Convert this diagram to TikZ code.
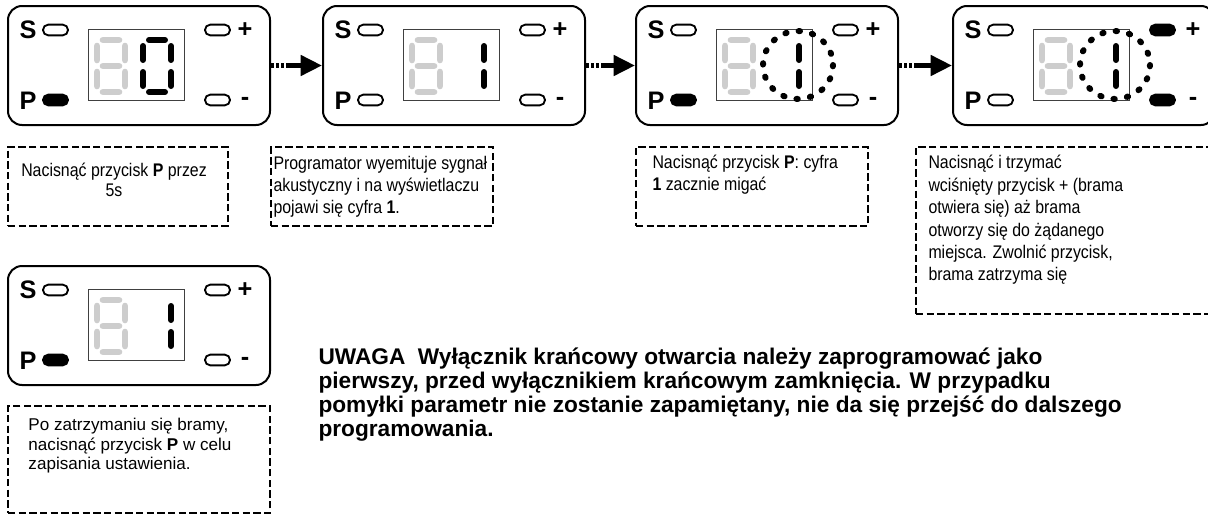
\documentclass[tikz,border=0pt]{standalone}
\usepackage{fontspec}
\setmainfont{Liberation Sans}
\newfontfamily\narrowsans[FakeStretch=0.87]{Liberation Sans}
\usetikzlibrary{arrows.meta}

\tikzset{every picture/.style={line width=0.75pt}}
\tikzset{
  panel/.style={draw, line width=1.5pt, rounded corners=10.5pt, minimum width=196.5pt, minimum height=89.25pt, anchor=north west, inner sep=0pt},
  lcd/.style={draw=black!75, line width=0.75pt, minimum width=72pt, minimum height=53.25pt, inner sep=0pt},
  led/.style={draw, line width=1.4pt, rounded corners=3.9pt, minimum width=18.75pt, minimum height=8pt, inner sep=0pt},
  ledon/.style={led, fill=black},
  key/.style={font=\fontsize{19}{19}\selectfont\bfseries, inner sep=0pt},
  ghost/.style={draw={rgb,255:red,205;green,205;blue,205}, line width=5pt, line cap=round},
  seg/.style={draw=black, line width=4.5pt, line cap=round},
  blink/.style={draw, line width=4.5pt, line cap=round, dash pattern=on 1pt off 9.2pt},
  flow/.style={line width=3.5pt, dash pattern=on 2.25pt off 1.5pt on 2.25pt off 1.5pt on 2.25pt off 1.5pt on 20pt off 0pt, -{Triangle[length=16pt,width=15pt]}},
  note/.style={draw, line width=1.5pt, dash pattern=on 5.5pt off 2.5pt, anchor=north west, inner sep=0pt},
  notetext/.style={font=\narrowsans\fontsize{13.7}{16.5}\selectfont, inner sep=0pt, anchor=north west, align=left},
}

\begin{document}
\begin{tikzpicture}[x=0.75pt,y=0.75pt,yscale=-1,xscale=1]
\useasboundingbox (0,0) rectangle (1208,525);
\clip (0,0) rectangle (1208,525);

%Panel 1: P held
\begin{scope}[shift={(7,5)}]
\node[panel] (p1) at (0,0) {};
\node[key] (p1S) at (21,25) {S};
\node[key] (p1P) at (21,96) {P};
\node[led] (p1ls) at (48.5,25) {};
\node[ledon] (p1lp) at (48.5,95) {};
\node[led] (p1lplus) at (210.5,25) {};
\node[led] (p1lminus) at (210.5,95) {};
\node[key] (p1plus) at (238,25) {+};
\node[key] (p1minus) at (238,96) {-};
\node[lcd] (p1lcd) at (129,59.5) {};
\draw[ghost] (96,35) -- (112,35) (96,61) -- (112,61) (96,87) -- (112,87) (90,41) -- (90,55) (90,67) -- (90,81) (118,41) -- (118,55) (118,67) -- (118,81);
\draw[seg] (142,35) -- (158,35) (142,87) -- (158,87) (136,41) -- (136,55) (136,67) -- (136,81) (164,41) -- (164,55) (164,67) -- (164,81);
\end{scope}

%Panel 2: digit 1
\begin{scope}[shift={(322,5)}]
\node[panel] (p2) at (0,0) {};
\node[key] (p2S) at (21,25) {S};
\node[key] (p2P) at (21,96) {P};
\node[led] (p2ls) at (48.5,25) {};
\node[led] (p2lp) at (48.5,95) {};
\node[led] (p2lplus) at (210.5,25) {};
\node[led] (p2lminus) at (210.5,95) {};
\node[key] (p2plus) at (238,25) {+};
\node[key] (p2minus) at (238,96) {-};
\node[lcd] (p2lcd) at (129,59.5) {};
\draw[ghost] (96,35) -- (112,35) (96,61) -- (112,61) (96,87) -- (112,87) (90,41) -- (90,55) (90,67) -- (90,81) (118,41) -- (118,55) (118,67) -- (118,81);
\draw[seg] (162,41) -- (162,55) (162,67) -- (162,81);
\end{scope}

%Panel 3: digit 1 blinking
\begin{scope}[shift={(635,5)}]
\node[panel] (p3) at (0,0) {};
\node[key] (p3S) at (21,25) {S};
\node[key] (p3P) at (21,96) {P};
\node[led] (p3ls) at (48.5,25) {};
\node[ledon] (p3lp) at (48.5,95) {};
\node[led] (p3lplus) at (210.5,25) {};
\node[led] (p3lminus) at (210.5,95) {};
\node[key] (p3plus) at (238,25) {+};
\node[key] (p3minus) at (238,96) {-};
\node[lcd] (p3lcd) at (129,59.5) {};
\draw[ghost] (96,35) -- (112,35) (96,61) -- (112,61) (96,87) -- (112,87) (90,41) -- (90,55) (90,67) -- (90,81) (118,41) -- (118,55) (118,67) -- (118,81);
\draw[seg] (164,41) -- (164,55) (164,67) -- (164,81);
\draw[blink] (163,60) ellipse [x radius=35, y radius=34];
\end{scope}

%Panel 4: + and - lit
\begin{scope}[shift={(952,5)}]
\node[panel] (p4) at (0,0) {};
\node[key] (p4S) at (21,25) {S};
\node[key] (p4P) at (21,96) {P};
\node[led] (p4ls) at (48.5,25) {};
\node[led] (p4lp) at (48.5,95) {};
\node[ledon] (p4lplus) at (210.5,25) {};
\node[ledon] (p4lminus) at (210.5,95) {};
\node[key] (p4plus) at (241,25) {+};
\node[key] (p4minus) at (241,96) {-};
\node[lcd] (p4lcd) at (129,59.5) {};
\draw[ghost] (96,35) -- (112,35) (96,61) -- (112,61) (96,87) -- (112,87) (90,41) -- (90,55) (90,67) -- (90,81) (118,41) -- (118,55) (118,67) -- (118,81);
\draw[seg] (164,41) -- (164,55) (164,67) -- (164,81);
\draw[blink] (163,60) ellipse [x radius=35, y radius=34];
\end{scope}

%Panel 5: save
\begin{scope}[shift={(7,265)}]
\node[panel] (p5) at (0,0) {};
\node[key] (p5S) at (21,25) {S};
\node[key] (p5P) at (21,96) {P};
\node[led] (p5ls) at (48.5,25) {};
\node[ledon] (p5lp) at (48.5,95) {};
\node[led] (p5lplus) at (210.5,25) {};
\node[led] (p5lminus) at (210.5,95) {};
\node[key] (p5plus) at (238,25) {+};
\node[key] (p5minus) at (238,96) {-};
\node[lcd] (p5lcd) at (129,59.5) {};
\draw[ghost] (96,35) -- (112,35) (96,61) -- (112,61) (96,87) -- (112,87) (90,41) -- (90,55) (90,67) -- (90,81) (118,41) -- (118,55) (118,67) -- (118,81);
\draw[seg] (164,41) -- (164,55) (164,67) -- (164,81);
\end{scope}

%Arrows
\draw[flow] (p1.east) -- (p2.west);
\draw[flow] (p2.east) -- (p3.west);
\draw[flow] (p3.east) -- (p4.west);

%Notes
\node[note, minimum width=165pt, minimum height=59.25pt] (n1) at (7,146) {};
\node[note, minimum width=166.5pt, minimum height=59.25pt] (n2) at (270,146) {};
\node[note, minimum width=174pt, minimum height=59.25pt] (n3) at (635,146) {};
\node[note, minimum width=225pt, minimum height=125.25pt] (n4) at (915,146) {};
\node[note, minimum width=196.5pt, minimum height=80.25pt] (n5) at (7,405) {};

% Text Node
\node[notetext, anchor=north, align=center, font=\narrowsans\fontsize{13.7}{15}\selectfont] (t1) at (114,163) {Nacisnąć przycisk \textbf{P} przez\\5s};
% Text Node
\node[notetext] (t2) at (273,156) {Programator wyemituje sygnał\\akustyczny i na wyświetlaczu\\pojawi się cyfra \textbf{1}.};
% Text Node
\node[notetext] (t3) at (652,155) {Nacisnąć przycisk \textbf{P}: cyfra\\\textbf{1} zacznie migać};
% Text Node
\node[notetext, font=\narrowsans\fontsize{13.7}{16.8}\selectfont] (t4) at (928,155) {Nacisnąć i trzymać\\wciśnięty przycisk + (brama\\otwiera się) aż brama\\otworzy się do żądanego\\miejsca. Zwolnić przycisk,\\brama zatrzyma się};
% Text Node
\node[notetext, font=\fontsize{12.8}{14.6}\selectfont] (t5) at (28,418) {Po zatrzymaniu się bramy,\\nacisnąć przycisk \textbf{P} w celu\\zapisania ustawienia.};
% Text Node
\node[notetext, font=\fontsize{17}{18}\selectfont\bfseries] (uwaga) at (318,347) {UWAGA\ \ Wyłącznik krańcowy otwarcia należy zaprogramować jako\\pierwszy, przed wyłącznikiem krańcowym zamknięcia. W przypadku\\pomyłki parametr nie zostanie zapamiętany, nie da się przejść do dalszego\\programowania.};

\end{tikzpicture}
\end{document}
